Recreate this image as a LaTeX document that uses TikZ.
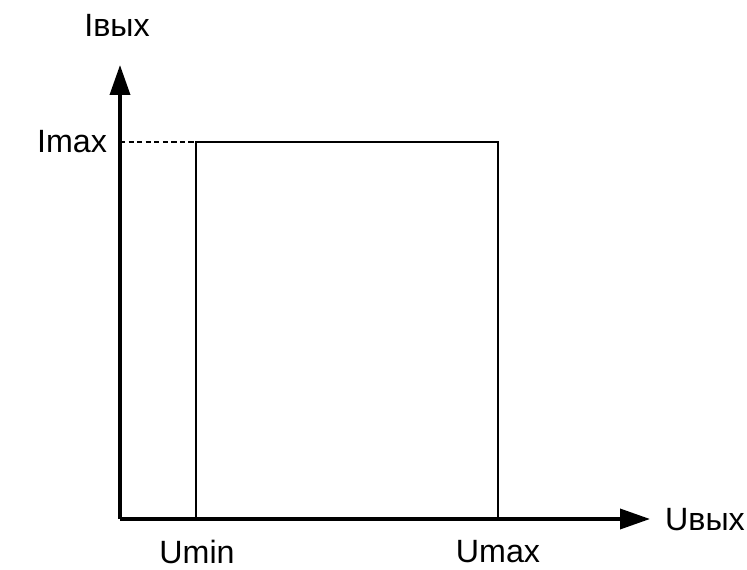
\documentclass[tikz,border=0pt]{standalone}
\usepackage{fontspec}
\setmainfont{Liberation Sans}
\usepackage{tikz}
\usetikzlibrary{arrows.meta}
\tikzset{
  axis/.style={draw=black, line width=3.1pt, -{Triangle[length=0.9cm,width=0.6cm]}},
  zone/.style={draw=black, line width=2.5pt},
  help/.style={draw=black, dash pattern=on 4.5pt off 2.8pt, line width=2.4pt},
  lab/.style={text=black, font=\fontsize{27.5}{32}\selectfont, inner sep=0pt},
}
\begin{document}
\begin{tikzpicture}[x=0.03cm, y=-0.03cm]
  \useasboundingbox (0,0) rectangle (747,570);
  \coordinate (O) at (120,519);
  \coordinate (Xend) at (650,519);
  \coordinate (Yend) at (120,65);
  \coordinate (A) at (196,519);
  \coordinate (B) at (196,142);
  \coordinate (C) at (498,142);
  \coordinate (D) at (498,519);
  \coordinate (Ym) at (120,142);
  % axes
  \draw[axis] (O)--(Xend);
  \draw[axis] (O)--(Yend);
  % working area
  \draw[zone] (A)--(B)--(C)--(D);
  \draw[help] (Ym)--(B);
  % labels
  \node[lab] (iout) at (117,25) {Iвых};
  \node[lab] (uout) at (705,520) {Uвых};
  \node[lab] (imax) at (72,142) {Imax};
  \node[lab] (umin) at (197,552) {Umin};
  \node[lab] (umax) at (498,552) {Umax};
\end{tikzpicture}
\end{document}
